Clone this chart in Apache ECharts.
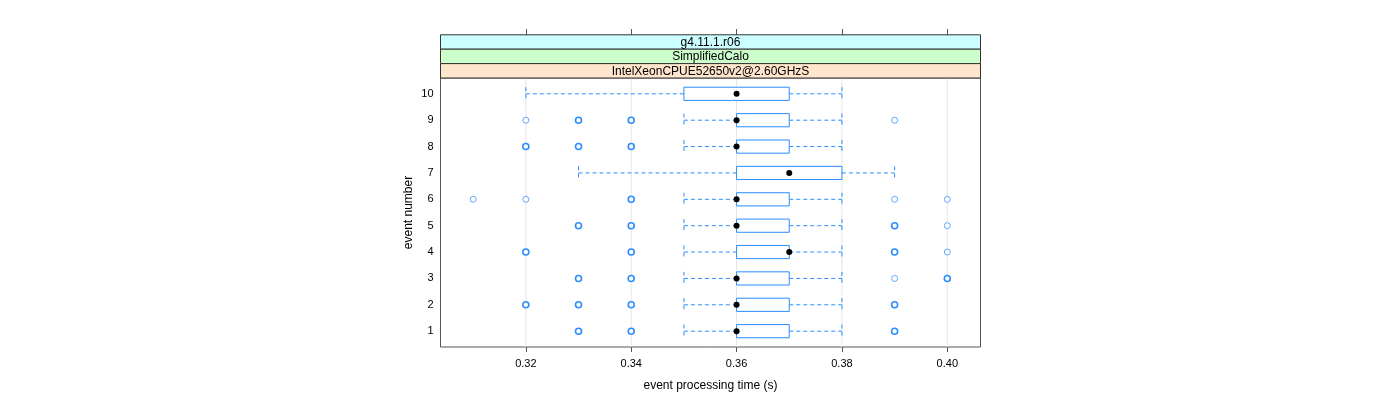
<!DOCTYPE html>
<html>
<head>
<meta charset="utf-8">
<script src="https://cdn.jsdelivr.net/npm/echarts@6/dist/echarts.min.js"></script>
<style>html,body{margin:0;padding:0;background:#fff;}#c{width:1400px;height:400px;}</style>
</head>
<body>
<div id="c"></div>
<script>
// ---- data ----
const events = [1, 2, 3, 4, 5, 6, 7, 8, 9, 10];
const lowerWhisker = [0.35, 0.35, 0.35, 0.35, 0.35, 0.35, 0.33, 0.35, 0.35, 0.32];
const q1 =           [0.36, 0.36, 0.36, 0.36, 0.36, 0.36, 0.36, 0.36, 0.36, 0.35];
const median =       [0.36, 0.36, 0.36, 0.37, 0.36, 0.36, 0.37, 0.36, 0.36, 0.36];
const q3 =           [0.37, 0.37, 0.37, 0.37, 0.37, 0.37, 0.38, 0.37, 0.37, 0.37];
const upperWhisker = [0.38, 0.38, 0.38, 0.38, 0.38, 0.38, 0.39, 0.38, 0.38, 0.38];
// outliers: [event, time, multiplicity (estimated: 1 = single, 2 = several)]
const outliers = [
  [9, 0.32, 1], [9, 0.33, 2], [9, 0.34, 2], [9, 0.39, 1],
  [8, 0.32, 2], [8, 0.33, 2], [8, 0.34, 2],
  [6, 0.31, 1], [6, 0.32, 1], [6, 0.34, 2], [6, 0.39, 1], [6, 0.40, 1],
  [5, 0.33, 2], [5, 0.34, 2], [5, 0.39, 2], [5, 0.40, 1],
  [4, 0.32, 2], [4, 0.34, 2], [4, 0.39, 2], [4, 0.40, 1],
  [3, 0.33, 2], [3, 0.34, 2], [3, 0.39, 1], [3, 0.40, 2],
  [2, 0.32, 2], [2, 0.33, 2], [2, 0.34, 2], [2, 0.39, 2],
  [1, 0.33, 2], [1, 0.34, 2], [1, 0.39, 2]
];
const xTicks = [0.32, 0.34, 0.36, 0.38, 0.40];
const yTicks = [1, 2, 3, 4, 5, 6, 7, 8, 9, 10];
const stripLabels = ['g4.11.1.r06', 'SimplifiedCalo', 'IntelXeonCPUE52650v2@2.60GHzS'];
const stripColors = ['#ccffff', '#ccffcc', '#ffe5cc'];
const xTitle = 'event processing time (s)';
const yTitle = 'event number';

// ---- layout ----
const X_MIN = 0.3038, X_MAX = 0.4063, Y_MIN = 0.4, Y_MAX = 10.6;
const G = {left: 440.5, top: 78, width: 540, height: 269};
const FONT = 'Liberation Sans, Arial, sans-serif';
const BLUE = '#2b8cff';

const boxData = events.map((e, i) => [e, lowerWhisker[i], q1[i], median[i], q3[i], upperWhisker[i]]);

function renderBox(params, api) {
  const e = api.value(0);
  const lw = api.value(1), a = api.value(2), m = api.value(3), b = api.value(4), uw = api.value(5);
  const y = api.coord([0, e])[1];
  const h = api.size([0, 0.5])[1];
  const hh = h / 2;
  const pL = api.coord([lw, e])[0], pA = api.coord([a, e])[0], pM = api.coord([m, e])[0];
  const pB = api.coord([b, e])[0], pU = api.coord([uw, e])[0];
  const dash = {stroke: BLUE, lineWidth: 1, lineDash: [4, 3], fill: null};
  const children = [];
  if (pA - pL > 0.5) children.push({type: 'line', shape: {x1: pL, y1: y, x2: pA, y2: y}, style: dash});
  if (pU - pB > 0.5) children.push({type: 'line', shape: {x1: pB, y1: y, x2: pU, y2: y}, style: dash});
  children.push({type: 'line', shape: {x1: pL, y1: y - hh, x2: pL, y2: y + hh}, style: dash});
  children.push({type: 'line', shape: {x1: pU, y1: y - hh, x2: pU, y2: y + hh}, style: dash});
  children.push({type: 'rect', shape: {x: pA, y: y - hh, width: pB - pA, height: h},
    style: {stroke: BLUE, lineWidth: 1, fill: '#fff'}});
  children.push({type: 'circle', shape: {cx: pM, cy: y, r: 3}, style: {fill: '#000', stroke: null}});
  return {type: 'group', children: children};
}

function renderGrid(params, api) {
  const t = api.value(0);
  const p1 = api.coord([t, Y_MIN]), p2 = api.coord([t, Y_MAX]);
  return {type: 'line', shape: {x1: p1[0], y1: p1[1], x2: p2[0], y2: p2[1]},
    style: {stroke: '#e6e6e6', lineWidth: 1}};
}

const stripH = 14.4;
const graphics = [];
stripLabels.forEach((lab, i) => {
  const top = G.top - stripH * (stripLabels.length - i);
  graphics.push({type: 'rect', x: G.left, y: top,
    shape: {x: 0, y: 0, width: G.width, height: stripH},
    style: {fill: stripColors[i], stroke: '#333', lineWidth: 1}, z: 10});
  graphics.push({type: 'text', x: G.left + G.width / 2, y: top + stripH / 2 + 0.5, z: 11,
    style: {text: lab, font: '12px ' + FONT, fill: '#000', align: 'center', verticalAlign: 'middle'}});
});

const chart = echarts.init(document.getElementById('c'), null, {renderer: 'canvas'});
chart.setOption({
  animation: false,
  backgroundColor: '#fff',
  grid: {left: G.left, top: G.top, width: G.width, height: G.height, show: true,
    borderColor: '#555', borderWidth: 1, backgroundColor: 'transparent', containLabel: false},
  xAxis: [{
    type: 'value', min: X_MIN, max: X_MAX, position: 'bottom',
    axisLine: {show: false},
    axisTick: {show: true, customValues: xTicks, length: 5, lineStyle: {color: '#555'}},
    axisLabel: {customValues: xTicks, formatter: v => v.toFixed(2), margin: 11,
      fontFamily: FONT, fontSize: 11, color: '#000'},
    splitLine: {show: false},
    name: xTitle, nameLocation: 'middle', nameGap: 33,
    nameTextStyle: {fontFamily: FONT, fontSize: 12, color: '#000'}
  }, {
    type: 'value', min: X_MIN, max: X_MAX, position: 'top', offset: 43,
    axisLine: {show: false},
    axisTick: {show: true, customValues: xTicks, length: 6, lineStyle: {color: '#555'}},
    axisLabel: {show: false},
    splitLine: {show: false}
  }],
  yAxis: {
    type: 'value', min: Y_MIN, max: Y_MAX,
    axisLine: {show: false},
    axisTick: {show: false},
    axisLabel: {customValues: yTicks, margin: 7, fontFamily: FONT, fontSize: 11, color: '#000'},
    splitLine: {show: false},
    name: yTitle, nameLocation: 'middle', nameGap: 26, nameRotate: 90,
    nameTextStyle: {fontFamily: FONT, fontSize: 12, color: '#000'}
  },
  graphic: graphics,
  series: [{
    type: 'custom', renderItem: renderGrid, data: xTicks.map(t => [t]), z: 1, silent: true
  }, {
    type: 'custom', renderItem: renderBox, data: boxData, z: 3, silent: true,
    encode: {x: [1, 2, 3, 4, 5], y: 0}
  }, {
    type: 'scatter', z: 4, silent: true, symbol: 'circle', symbolSize: 6,
    data: outliers.map(o => ({
      value: [o[1], o[0]],
      itemStyle: {color: '#fff', borderColor: BLUE, borderWidth: o[2] > 1 ? 1.6 : 1,
        opacity: o[2] > 1 ? 1 : 0.75}
    }))
  }]
});
</script>
</body>
</html>
